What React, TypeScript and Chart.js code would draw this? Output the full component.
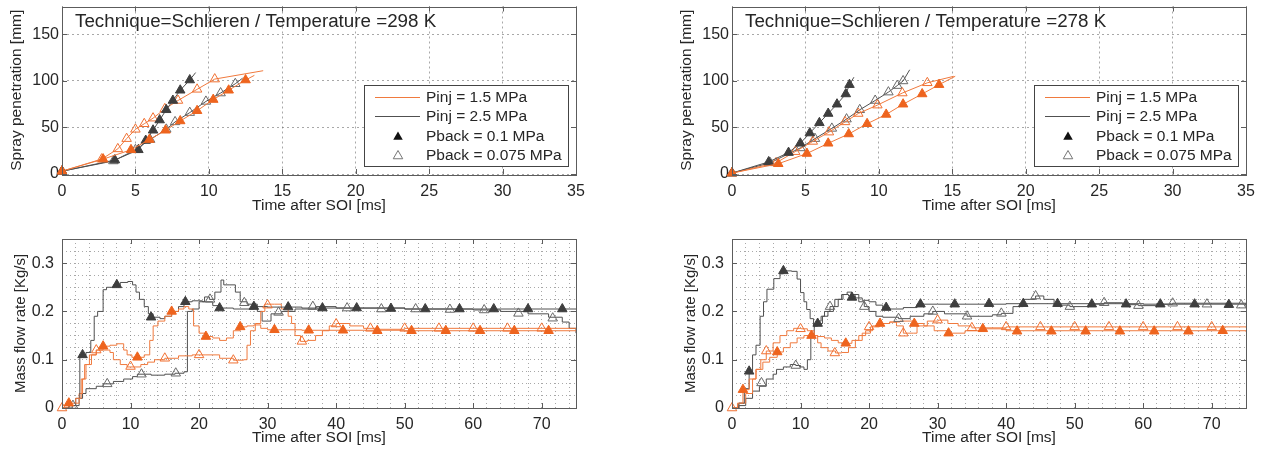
import React, { useEffect, useRef } from 'react';
import { Chart, registerables } from 'chart.js';

Chart.register(...registerables);

// ---------------- text ----------------
const LEGEND_LABELS = ['Pinj = 1.5 MPa', 'Pinj = 2.5 MPa', 'Pback = 0.1 MPa', 'Pback = 0.075 MPa'];
const TITLE_298 = 'Technique=Schlieren / Temperature =298 K';
const TITLE_278 = 'Technique=Schlieren / Temperature =278 K';
const X_TITLE = 'Time after SOI [ms]';
const Y_TITLE_TOP = 'Spray penetration [mm]';
const Y_TITLE_BOTTOM = 'Mass flow rate [Kg/s]';

// ---------------- tick labels ----------------
const TOP_X_TICKS = [0, 5, 10, 15, 20, 25, 30, 35];
const TOP_Y_TICKS = [0, 50, 100, 150];
const BOT_X_TICKS = [0, 10, 20, 30, 40, 50, 60, 70];
const BOT_Y_TICKS = [0, 0.1, 0.2, 0.3];

// ---------------- spray penetration, 298 K (time ms / penetration mm) ----------------
const TL_O1_T = [0, 2.8, 4.7, 5.95, 7.05, 8.05, 9.2, 10.3, 11.35, 12.5, 13.1];
const TL_O1_V = [3, 16, 26, 37, 47, 57, 68, 80, 90, 101, 106];
const TL_G1_T = [0, 3.6, 5.2, 5.7, 6.2, 6.65, 7.1, 7.55, 8.05, 8.7, 9.1];
const TL_G1_V = [3, 15, 26, 36, 47, 58, 69, 79, 90, 101, 109];
const TL_O2_T = [0, 2.7, 3.8, 4.4, 5.0, 5.6, 6.2, 7.0, 7.9, 9.2, 10.4, 13.7];
const TL_O2_V = [3, 16, 27, 38, 48, 54, 60, 70, 79, 91, 102, 111];
const TL_G2_T = [0, 3.5, 5.0, 6.0, 7.1, 7.7, 8.7, 9.8, 10.8, 11.8, 12.3];
const TL_G2_V = [3, 14, 26, 37, 48, 56, 66, 78, 87, 97, 103];

// ---------------- spray penetration, 278 K ----------------
const TR_O1_T = [0, 3.15, 5.1, 6.55, 7.95, 9.2, 10.5, 11.65, 12.95, 14.1, 15.2];
const TR_O1_V = [1, 11, 22, 33, 43, 54, 64, 75, 86, 96, 105];
const TR_G1_T = [0, 2.5, 3.85, 4.65, 5.3, 5.95, 6.55, 7.15, 7.75, 8.0, 8.3];
const TR_G1_V = [1, 13, 23, 33, 44, 55, 65, 75, 86, 96, 104];
const TR_O2_T = [0, 3.0, 4.3, 5.5, 6.6, 7.7, 8.6, 9.9, 11.6, 13.3, 15.1];
const TR_O2_V = [1, 12, 24, 35, 45, 56, 65, 74, 87, 98, 105];
const TR_G2_T = [0, 2.6, 4.65, 5.65, 6.8, 7.8, 8.7, 9.75, 10.65, 11.25, 11.65, 12.1];
const TR_G2_V = [1, 12, 28, 38, 49, 59, 69, 79, 88, 95, 100, 112];

// ---------------- mass flow rate, 298 K (time ms / kg/s) ----------------
const BL_G1_LT = [0, 1.0, 2.0, 2.6, 3.5, 4.2, 4.7, 5.2, 6.0, 6.5, 7.5, 8.5, 9.6, 10.3, 10.8, 11.3, 12.0, 12.6, 13.3, 14.3, 15.0, 16.0, 17.0, 17.8, 19.0, 20.5, 22.0, 23.0, 25.0, 28.0, 30.0, 35.0, 40.0, 50.0, 60.0, 75.0];
const BL_G1_LV = [0, 0.005, 0.02, 0.11, 0.115, 0.14, 0.19, 0.2, 0.245, 0.25, 0.255, 0.26, 0.262, 0.255, 0.24, 0.225, 0.21, 0.195, 0.188, 0.185, 0.19, 0.2, 0.21, 0.22, 0.222, 0.22, 0.212, 0.207, 0.205, 0.21, 0.209, 0.207, 0.207, 0.205, 0.205, 0.205];
const BL_G1_MT = [3, 8, 13, 18, 23, 28, 33, 38, 43, 48, 53, 58, 63, 68, 73];
const BL_G1_MV = [0.11, 0.255, 0.188, 0.22, 0.207, 0.21, 0.209, 0.207, 0.207, 0.206, 0.205, 0.205, 0.205, 0.205, 0.205];

const BL_G2_LT = [0, 1.5, 2.5, 3.0, 3.5, 5.0, 6.0, 7.5, 9.0, 10.3, 11.0, 13.0, 15.0, 16.5, 17.8, 18.3, 19.0, 20.0, 20.8, 21.5, 22.3, 23.2, 23.6, 24.5, 25.3, 26.0, 27.0, 28.5, 29.2, 30.5, 32.0, 34.0, 37.0, 40.0, 50.0, 60.0, 64.0, 68.0, 71.0, 73.0, 74.0, 75.0];
const BL_G2_LV = [0, 0.005, 0.02, 0.03, 0.04, 0.045, 0.05, 0.055, 0.06, 0.065, 0.07, 0.068, 0.07, 0.072, 0.075, 0.2, 0.205, 0.22, 0.23, 0.225, 0.24, 0.265, 0.255, 0.255, 0.24, 0.22, 0.215, 0.2, 0.18, 0.195, 0.2, 0.205, 0.21, 0.207, 0.205, 0.203, 0.2, 0.195, 0.188, 0.178, 0.165, 0.155];
const BL_G2_MT = [1.6, 6.6, 11.6, 16.6, 21.6, 26.6, 31.6, 36.6, 41.6, 46.6, 51.6, 56.6, 61.6, 66.6, 71.6];
const BL_G2_MV = [0.005, 0.05, 0.07, 0.072, 0.225, 0.218, 0.198, 0.21, 0.207, 0.205, 0.205, 0.204, 0.203, 0.196, 0.186];

const BL_O1_LT = [0, 1.0, 2.0, 2.8, 3.3, 4.0, 5.0, 6.0, 7.0, 8.0, 9.0, 9.5, 10.2, 11.0, 12.0, 12.8, 13.3, 14.0, 15.0, 16.0, 17.0, 17.8, 18.5, 19.2, 20.0, 21.0, 22.0, 23.0, 24.0, 25.0, 26.0, 27.0, 28.0, 29.0, 30.0, 35.0, 50.0, 75.0];
const BL_O1_LV = [0, 0.01, 0.02, 0.06, 0.09, 0.11, 0.12, 0.128, 0.13, 0.133, 0.12, 0.11, 0.105, 0.105, 0.11, 0.14, 0.17, 0.18, 0.19, 0.2, 0.205, 0.21, 0.205, 0.17, 0.155, 0.148, 0.145, 0.14, 0.145, 0.16, 0.168, 0.17, 0.172, 0.165, 0.162, 0.161, 0.16, 0.16];
const BL_O1_MT = [1, 6, 11, 16, 21, 26, 31, 36, 41, 46, 51, 56, 61, 66, 71];
const BL_O1_MV = [0.01, 0.128, 0.105, 0.2, 0.148, 0.168, 0.162, 0.161, 0.161, 0.16, 0.16, 0.16, 0.16, 0.16, 0.16];

const BL_O2_LT = [0, 1.0, 2.0, 2.5, 3.0, 3.5, 4.3, 5.0, 6.0, 7.0, 7.5, 8.5, 9.5, 10.5, 11.5, 12.5, 13.5, 15.0, 17.0, 19.0, 21.0, 23.0, 25.0, 26.5, 27.0, 27.5, 28.2, 29.0, 29.6, 31.0, 32.0, 33.0, 33.5, 34.0, 34.8, 35.8, 37.0, 38.0, 39.0, 40.0, 42.0, 44.0, 46.0, 50.0, 75.0];
const BL_O2_LV = [0, 0.005, 0.01, 0.03, 0.06, 0.09, 0.11, 0.12, 0.12, 0.115, 0.1, 0.09, 0.085, 0.085, 0.09, 0.095, 0.1, 0.103, 0.108, 0.11, 0.11, 0.103, 0.099, 0.1, 0.13, 0.16, 0.175, 0.2, 0.215, 0.215, 0.205, 0.19, 0.175, 0.15, 0.138, 0.14, 0.15, 0.16, 0.17, 0.175, 0.17, 0.165, 0.163, 0.165, 0.163];
const BL_O2_MT = [0, 5, 10, 15, 20, 25, 30, 35, 40, 45, 50, 55, 60, 65, 70];
const BL_O2_MV = [0, 0.12, 0.086, 0.103, 0.11, 0.099, 0.213, 0.138, 0.174, 0.165, 0.165, 0.165, 0.165, 0.165, 0.165];

// ---------------- mass flow rate, 278 K ----------------
const BR_G1_LT = [0, 1.0, 1.8, 2.5, 3.0, 3.5, 4.1, 4.6, 5.1, 6.1, 7.0, 7.5, 8.7, 9.5, 10.0, 10.5, 10.9, 11.4, 11.9, 12.5, 13.2, 14.0, 14.8, 15.5, 16.2, 17.0, 18.0, 19.0, 20.0, 21.0, 22.0, 23.0, 25.0, 27.0, 30.0, 40.0, 60.0, 75.0];
const BR_G1_LV = [0, 0.01, 0.04, 0.076, 0.11, 0.13, 0.19, 0.22, 0.246, 0.268, 0.278, 0.284, 0.283, 0.267, 0.239, 0.22, 0.204, 0.185, 0.17, 0.175, 0.19, 0.2, 0.21, 0.225, 0.235, 0.232, 0.228, 0.223, 0.22, 0.213, 0.208, 0.205, 0.208, 0.215, 0.215, 0.216, 0.215, 0.213];
const BR_G1_MT = [2.5, 7.5, 12.5, 17.5, 22.5, 27.5, 32.5, 37.5, 42.5, 47.5, 52.5, 57.5, 62.5, 67.5, 72.5];
const BR_G1_MV = [0.076, 0.284, 0.175, 0.229, 0.208, 0.215, 0.215, 0.216, 0.216, 0.216, 0.215, 0.215, 0.215, 0.215, 0.214];

const BR_G2_LT = [0, 1.0, 2.0, 3.0, 4.0, 5.0, 6.0, 6.5, 7.5, 8.5, 9.3, 10.0, 10.5, 11.0, 11.5, 12.0, 12.5, 13.0, 13.5, 14.3, 15.0, 16.0, 16.8, 17.5, 18.5, 19.3, 20.0, 21.0, 22.0, 24.3, 26.0, 28.0, 29.3, 31.0, 34.3, 38.0, 39.3, 41.0, 42.5, 44.3, 45.5, 47.0, 49.3, 52.0, 54.3, 57.0, 59.3, 62.0, 64.3, 75.0];
const BR_G2_LV = [0, 0.005, 0.02, 0.035, 0.045, 0.06, 0.07, 0.08, 0.085, 0.09, 0.088, 0.085, 0.08, 0.1, 0.15, 0.17, 0.18, 0.19, 0.2, 0.21, 0.225, 0.235, 0.24, 0.235, 0.22, 0.21, 0.2, 0.19, 0.188, 0.185, 0.19, 0.195, 0.2, 0.195, 0.19, 0.193, 0.196, 0.21, 0.225, 0.232, 0.225, 0.213, 0.21, 0.215, 0.218, 0.214, 0.212, 0.215, 0.217, 0.21];
const BR_G2_MT = [4.3, 9.3, 14.3, 19.3, 24.3, 29.3, 34.3, 39.3, 44.3, 49.3, 54.3, 59.3, 64.3, 69.3, 74.3];
const BR_G2_MV = [0.052, 0.088, 0.21, 0.21, 0.185, 0.2, 0.19, 0.196, 0.232, 0.21, 0.218, 0.212, 0.217, 0.215, 0.213];

const BR_O1_LT = [0, 0.8, 1.6, 2.5, 3.5, 4.5, 5.5, 6.6, 7.5, 8.5, 9.5, 10.5, 11.5, 12.5, 13.5, 14.5, 15.5, 16.5, 17.5, 18.5, 19.5, 20.5, 21.6, 23.0, 24.5, 26.6, 28.0, 29.5, 31.6, 34.0, 36.6, 40.0, 75.0];
const BR_O1_LV = [0, 0.01, 0.038, 0.06, 0.08, 0.095, 0.105, 0.116, 0.125, 0.135, 0.145, 0.15, 0.15, 0.148, 0.145, 0.14, 0.135, 0.134, 0.14, 0.15, 0.16, 0.17, 0.175, 0.178, 0.18, 0.175, 0.17, 0.16, 0.155, 0.16, 0.164, 0.16, 0.158];
const BR_O1_MT = [1.6, 6.6, 11.6, 16.6, 21.6, 26.6, 31.6, 36.6, 41.6, 46.6, 51.6, 56.6, 61.6, 66.6, 71.6];
const BR_O1_MV = [0.038, 0.116, 0.15, 0.134, 0.175, 0.175, 0.155, 0.164, 0.159, 0.159, 0.159, 0.159, 0.159, 0.159, 0.16];

const BR_O2_LT = [0, 1.0, 2.0, 3.0, 3.5, 4.2, 5.0, 6.0, 7.0, 8.0, 9.0, 10.1, 11.0, 12.0, 12.5, 13.0, 14.0, 15.1, 16.0, 17.0, 18.0, 19.0, 20.2, 21.5, 23.0, 24.0, 25.0, 26.5, 27.0, 28.5, 30.1, 31.5, 33.0, 35.0, 40.0, 75.0];
const BR_O2_LV = [0, 0.01, 0.03, 0.06, 0.08, 0.1, 0.118, 0.135, 0.15, 0.16, 0.165, 0.164, 0.16, 0.15, 0.135, 0.125, 0.118, 0.114, 0.115, 0.125, 0.14, 0.155, 0.168, 0.175, 0.178, 0.17, 0.155, 0.155, 0.17, 0.18, 0.182, 0.175, 0.17, 0.166, 0.168, 0.167];
const BR_O2_MT = [0, 5, 10, 15, 20, 25, 30, 35, 40, 45, 50, 55, 60, 65, 70];
const BR_O2_MV = [0, 0.118, 0.164, 0.114, 0.168, 0.155, 0.182, 0.166, 0.168, 0.168, 0.168, 0.168, 0.168, 0.168, 0.168];

// ---------------- styles ----------------
const FONT = "'Liberation Sans', Arial, Helvetica, sans-serif";
const TEXT = '#262626';
const GRID = 'rgba(110,110,110,0.6)';
const FRAME = '#5c5c5c';

type Kind = 'orangeFilled' | 'orangeOpen' | 'grayFilled' | 'grayOpen';
const STYLE: Record<Kind, { line: string; mark: string; fill: string }> = {
  orangeFilled: { line: 'rgb(240,122,62)', mark: 'rgb(238,100,30)', fill: 'rgb(238,100,30)' },
  orangeOpen: { line: 'rgb(240,122,62)', mark: 'rgb(240,112,50)', fill: 'rgba(255,255,255,0)' },
  grayFilled: { line: 'rgb(80,80,80)', mark: 'rgb(62,62,62)', fill: 'rgb(62,62,62)' },
  grayOpen: { line: 'rgb(80,80,80)', mark: 'rgb(105,105,105)', fill: 'rgba(255,255,255,0)' },
};
const MARK_R = 5.5;

const near = (list: number[], v: number) => list.some((m) => Math.abs(m - v) < 1e-6);
const fmt = (v: number) => String(Math.round(v * 1000) / 1000);

function drawTri(ctx: CanvasRenderingContext2D, x: number, y: number, r: number) {
  ctx.beginPath();
  ctx.moveTo(x, y - r);
  ctx.lineTo(x + r * Math.sin((2 * Math.PI) / 3), y - r * Math.cos((2 * Math.PI) / 3));
  ctx.lineTo(x + r * Math.sin((4 * Math.PI) / 3), y - r * Math.cos((4 * Math.PI) / 3));
  ctx.closePath();
}

const framePlugin = {
  id: 'frame',
  afterDatasetsDraw(chart: any, _a: any, opts: any) {
    const { ctx, chartArea: a, scales } = chart;
    const L = 5;
    ctx.save();
    ctx.strokeStyle = FRAME;
    ctx.lineWidth = 1;
    ctx.beginPath();
    for (const v of opts.xTicks) {
      const px = Math.round(scales.x.getPixelForValue(v)) + 0.5;
      ctx.moveTo(px, a.bottom);
      ctx.lineTo(px, a.bottom - L);
      ctx.moveTo(px, a.top);
      ctx.lineTo(px, a.top + L);
    }
    for (const v of opts.yTicks) {
      const py = Math.round(scales.y.getPixelForValue(v)) + 0.5;
      ctx.moveTo(a.left, py);
      ctx.lineTo(a.left + L, py);
      ctx.moveTo(a.right, py);
      ctx.lineTo(a.right - L, py);
    }
    ctx.stroke();
    ctx.strokeRect(Math.round(a.left) + 0.5, Math.round(a.top) + 0.5, Math.round(a.right - a.left), Math.round(a.bottom - a.top));
    ctx.restore();
  },
};

const insideTitlePlugin = {
  id: 'insideTitle',
  afterDatasetsDraw(chart: any, _a: any, opts: any) {
    if (!opts || !opts.text) return;
    const { ctx, chartArea: a } = chart;
    ctx.save();
    ctx.font = `18.8px ${FONT}`;
    ctx.fillStyle = TEXT;
    ctx.textBaseline = 'middle';
    ctx.textAlign = 'left';
    ctx.fillText(opts.text, a.left + 13, a.top + 15);
    ctx.restore();
  },
};

const boxLegendPlugin = {
  id: 'boxLegend',
  afterDatasetsDraw(chart: any, _a: any, opts: any) {
    if (!opts || !opts.show) return;
    const { ctx, chartArea: a } = chart;
    const w = 204;
    const h = 81;
    const x0 = Math.round(a.right - 8 - w);
    const y0 = Math.round(a.bottom - 8 - h);
    ctx.save();
    ctx.fillStyle = '#fff';
    ctx.fillRect(x0, y0, w, h);
    ctx.strokeStyle = '#444';
    ctx.lineWidth = 1;
    ctx.strokeRect(x0 + 0.5, y0 + 0.5, w, h);
    const rows = [12, 31, 51, 70];
    ctx.font = `15.5px ${FONT}`;
    ctx.textBaseline = 'middle';
    ctx.textAlign = 'left';
    LEGEND_LABELS.forEach((lab, i) => {
      const y = y0 + rows[i];
      if (i < 2) {
        ctx.strokeStyle = i === 0 ? STYLE.orangeFilled.line : STYLE.grayFilled.line;
        ctx.beginPath();
        ctx.moveTo(x0 + 11, y + 0.5);
        ctx.lineTo(x0 + 56, y + 0.5);
        ctx.stroke();
      } else if (i === 2) {
        drawTri(ctx, x0 + 34, y + 1, MARK_R);
        ctx.fillStyle = '#111';
        ctx.fill();
      } else {
        drawTri(ctx, x0 + 34, y + 1, MARK_R);
        ctx.strokeStyle = '#777';
        ctx.stroke();
      }
      ctx.fillStyle = TEXT;
      ctx.fillText(lab, x0 + 62, y + 1);
    });
    ctx.restore();
  },
};

interface AxisSpec {
  xMin: number; xMax: number; xStep: number; xMajors: number[];
  yMin: number; yMax: number; yStep: number; yMajors: number[];
  xAxisH: number; yAxisW: number; xTickPad: number; yTickPad: number;
  xTitlePad: number; yTitlePad: number; yTitleSize: number; yTitle: string; dash: number[];
}

function makeScales(s: AxisSpec) {
  const tickFont = { family: FONT, size: 16 };
  return {
    x: {
      type: 'linear',
      min: s.xMin,
      max: s.xMax,
      ticks: {
        stepSize: s.xStep,
        includeBounds: false,
        autoSkip: false,
        maxRotation: 0,
        minRotation: 0,
        padding: s.xTickPad,
        color: TEXT,
        font: tickFont,
        callback: (v: any) => (near(s.xMajors, Number(v)) ? fmt(Number(v)) : ''),
      },
      grid: { color: GRID, lineWidth: 1, drawTicks: false },
      border: { display: false, dash: s.dash },
      title: { display: true, text: X_TITLE, color: TEXT, font: { family: FONT, size: 15.5 }, padding: { top: 0, bottom: s.xTitlePad } },
      afterFit: (sc: any) => {
        sc.height = s.xAxisH;
        sc.paddingLeft = 0;
        sc.paddingRight = 0;
      },
    },
    y: {
      type: 'linear',
      min: s.yMin,
      max: s.yMax,
      ticks: {
        stepSize: s.yStep,
        includeBounds: false,
        autoSkip: false,
        padding: s.yTickPad,
        color: TEXT,
        font: tickFont,
        callback: (v: any) => (near(s.yMajors, Number(v)) ? fmt(Number(v)) : ''),
      },
      grid: { color: GRID, lineWidth: 1, drawTicks: false },
      border: { display: false, dash: s.dash },
      title: { display: true, text: s.yTitle, color: TEXT, font: { family: FONT, size: s.yTitleSize }, padding: { top: s.yTitlePad, bottom: 0 } },
      afterFit: (sc: any) => {
        sc.width = s.yAxisW;
        sc.paddingTop = 0;
        sc.paddingBottom = 0;
      },
    },
  };
}

interface TopSeries { t: number[]; v: number[]; kind: Kind }
interface BotSeries { lt: number[]; lv: number[]; mt: number[]; mv: number[]; kind: Kind }

function topConfig(series: TopSeries[], title: string, rightPad: number): any {
  const datasets = series.map((s) => {
    const st = STYLE[s.kind];
    const n = s.t.length;
    return {
      data: s.t.map((x, i) => ({ x, y: s.v[i] })),
      showLine: true,
      borderColor: st.line,
      borderWidth: 1,
      pointStyle: 'triangle',
      pointRadius: s.t.map((_, i) => (i === n - 1 ? 0 : MARK_R)),
      pointBackgroundColor: st.fill,
      pointBorderColor: st.mark,
      pointBorderWidth: 1,
      clip: false,
    };
  });
  return {
    type: 'scatter',
    data: { datasets },
    options: {
      animation: false,
      responsive: false,
      devicePixelRatio: 1,
      events: [],
      layout: { padding: { top: 5, left: 0, right: rightPad, bottom: 0 } },
      scales: makeScales({
        xMin: 0, xMax: 35, xStep: 5, xMajors: TOP_X_TICKS,
        yMin: 0, yMax: 180, yStep: 50, yMajors: TOP_Y_TICKS,
        xAxisH: 54, yAxisW: 62, xTickPad: 8, yTickPad: 3,
        xTitlePad: 13, yTitlePad: 7, yTitleSize: 15.5, yTitle: Y_TITLE_TOP, dash: [2, 3],
      }),
      plugins: {
        legend: { display: false },
        tooltip: { enabled: false },
        frame: { xTicks: TOP_X_TICKS, yTicks: TOP_Y_TICKS },
        insideTitle: { text: title },
        boxLegend: { show: true },
      },
    },
    plugins: [framePlugin, boxLegendPlugin, insideTitlePlugin],
  };
}

function bottomConfig(series: BotSeries[], rightPad: number): any {
  const markers = series.map((s) => {
    const st = STYLE[s.kind];
    return {
      data: s.mt.map((x, i) => ({ x, y: s.mv[i] })),
      showLine: false,
      pointStyle: 'triangle',
      pointRadius: MARK_R,
      pointBackgroundColor: st.fill,
      pointBorderColor: st.mark,
      pointBorderWidth: 1,
      clip: false,
      order: 0,
    };
  });
  const lines = series.map((s) => {
    const st = STYLE[s.kind];
    return {
      data: s.lt.map((x, i) => ({ x, y: s.lv[i] })),
      showLine: true,
      stepped: true,
      borderColor: st.line,
      borderWidth: 1,
      pointRadius: 0,
      clip: false,
      order: 1,
    };
  });
  return {
    type: 'scatter',
    data: { datasets: [...markers, ...lines] },
    options: {
      animation: false,
      responsive: false,
      devicePixelRatio: 1,
      events: [],
      layout: { padding: { top: 9, left: 0, right: rightPad, bottom: 0 } },
      scales: makeScales({
        xMin: 0, xMax: 75, xStep: 2, xMajors: BOT_X_TICKS,
        yMin: 0, yMax: 0.35, yStep: 0.025, yMajors: BOT_Y_TICKS,
        xAxisH: 48, yAxisW: 62, xTickPad: 7, yTickPad: 8,
        xTitlePad: 9, yTitlePad: 12, yTitleSize: 15, yTitle: Y_TITLE_BOTTOM, dash: [1, 3],
      }),
      plugins: {
        legend: { display: false },
        tooltip: { enabled: false },
        frame: { xTicks: BOT_X_TICKS, yTicks: BOT_Y_TICKS },
      },
    },
    plugins: [framePlugin],
  };
}

const TL_SERIES: TopSeries[] = [
  { t: TL_O1_T, v: TL_O1_V, kind: 'orangeFilled' },
  { t: TL_G1_T, v: TL_G1_V, kind: 'grayFilled' },
  { t: TL_O2_T, v: TL_O2_V, kind: 'orangeOpen' },
  { t: TL_G2_T, v: TL_G2_V, kind: 'grayOpen' },
];
const TR_SERIES: TopSeries[] = [
  { t: TR_O1_T, v: TR_O1_V, kind: 'orangeFilled' },
  { t: TR_G1_T, v: TR_G1_V, kind: 'grayFilled' },
  { t: TR_O2_T, v: TR_O2_V, kind: 'orangeOpen' },
  { t: TR_G2_T, v: TR_G2_V, kind: 'grayOpen' },
];
const BL_SERIES: BotSeries[] = [
  { lt: BL_O1_LT, lv: BL_O1_LV, mt: BL_O1_MT, mv: BL_O1_MV, kind: 'orangeFilled' },
  { lt: BL_G1_LT, lv: BL_G1_LV, mt: BL_G1_MT, mv: BL_G1_MV, kind: 'grayFilled' },
  { lt: BL_O2_LT, lv: BL_O2_LV, mt: BL_O2_MT, mv: BL_O2_MV, kind: 'orangeOpen' },
  { lt: BL_G2_LT, lv: BL_G2_LV, mt: BL_G2_MT, mv: BL_G2_MV, kind: 'grayOpen' },
];
const BR_SERIES: BotSeries[] = [
  { lt: BR_O1_LT, lv: BR_O1_LV, mt: BR_O1_MT, mv: BR_O1_MV, kind: 'orangeFilled' },
  { lt: BR_G1_LT, lv: BR_G1_LV, mt: BR_G1_MT, mv: BR_G1_MV, kind: 'grayFilled' },
  { lt: BR_O2_LT, lv: BR_O2_LV, mt: BR_O2_MT, mv: BR_O2_MV, kind: 'orangeOpen' },
  { lt: BR_G2_LT, lv: BR_G2_LV, mt: BR_G2_MT, mv: BR_G2_MV, kind: 'grayOpen' },
];

function Panel(props: { left: number; top: number; width: number; height: number; make: () => any }) {
  const ref = useRef<HTMLCanvasElement>(null);
  useEffect(() => {
    if (!ref.current) return;
    const chart = new Chart(ref.current, props.make());
    return () => chart.destroy();
  }, []);
  return (
    <canvas
      ref={ref}
      width={props.width}
      height={props.height}
      style={{ position: 'absolute', left: props.left, top: props.top, width: props.width, height: props.height }}
    />
  );
}

export default function App() {
  return (
    <div style={{ position: 'fixed', left: 0, top: 0, width: 1264, height: 456, background: '#fff', overflow: 'hidden' }}>
      <Panel left={0} top={0} width={632} height={228} make={() => topConfig(TL_SERIES, TITLE_298, 56)} />
      <Panel left={670} top={0} width={594} height={228} make={() => topConfig(TR_SERIES, TITLE_278, 18)} />
      <Panel left={0} top={230} width={632} height={226} make={() => bottomConfig(BL_SERIES, 56)} />
      <Panel left={670} top={230} width={594} height={226} make={() => bottomConfig(BR_SERIES, 18)} />
    </div>
  );
}
